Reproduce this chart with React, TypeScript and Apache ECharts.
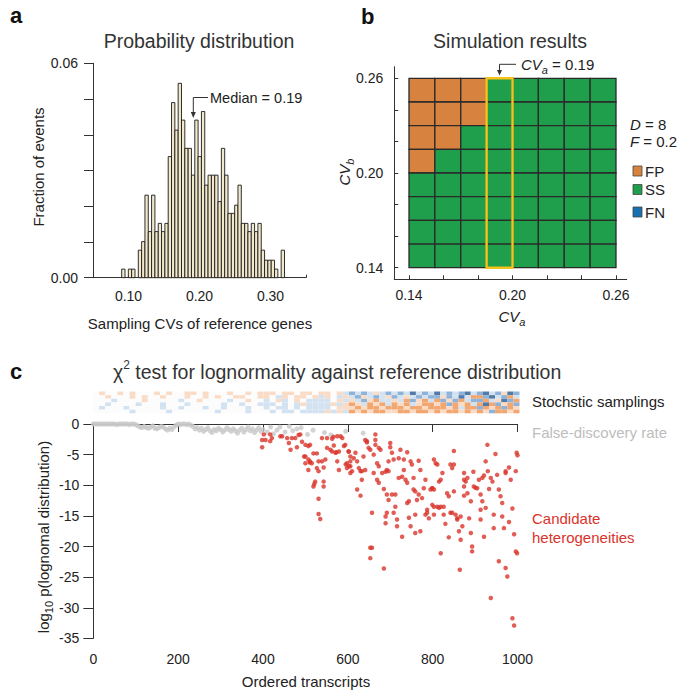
import React, { useEffect, useRef } from "react";
import * as echarts from "echarts";

const FF = "'Liberation Sans', Arial, Helvetica, sans-serif";

// ---------- Panel a: histogram ----------
const histBinStart = 0.0904;
const histBinWidth = 0.00468;
const histFractions = [
  0.0024, 0, 0.0024, 0.0024, 0, 0.0077, 0.0101, 0.0231, 0.0129, 0.0231,
  0.0129, 0.0152, 0.0129, 0.0152, 0.0339, 0.049, 0.0413, 0.0544, 0.0441, 0.0362,
  0.0362, 0.0287, 0.0441, 0.0339, 0.0465, 0.0259, 0.0287, 0.0287, 0.0287, 0.0213,
  0.0362, 0.0287, 0.018, 0.018, 0.0203, 0.0259, 0.0152, 0.0152, 0.0129, 0.0152,
  0.0129, 0.0152, 0.0077, 0.0049, 0.0049, 0.0049, 0.0024, 0, 0.0077,
];

// ---------- Panel b: simulation grid ----------
const simCvStart = 0.14;
const simCvStep = 0.015;
// rows from top (CVb high) to bottom, columns CVa low -> high; F = FP, S = SS, N = FN
const simStates = [
  "FFFSSSSS",
  "FFFSSSSS",
  "FFSSSSSS",
  "FSSSSSSS",
  "SSSSSSSS",
  "SSSSSSSS",
  "SSSSSSSS",
  "SSSSSSSS",
];
const simHighlightCol = 3;
const stateColors: Record<string, string> = { F: "#D8823F", S: "#1F9E4B", N: "#1A6FAF" };

// ---------- Panel c: stochastic samplings strip ----------
// . = 0, o/O = light/strong orange, b/B/D = light/medium/dark blue
const stripRows = [
  ".o..o.o...o.o..oo.o...o..o.o" + "oo.oo.o" + "o.oo.ob" + "BbBbobB" + "bBbDbBb" + "DbBbBDb" + "BDbBoDB",
  "..o...o.o..o...o..o.o..oo..o" + "o.bo.oo" + ".obo.bo" + "bBobBbo" + "BbobBbB" + "BoBbDbO" + "OBDbBOb",
  "...b....o.....b..o....b..o.." + "b.ob.o." + "bbbb.ob" + "obBoObb" + "obOBoOb" + "OBoBObB" + "BOboDBO",
  "..b....b...b...b.....b..b..b" + "bb.b.bo" + "bbbbobo" + "OobOoOb" + "OoOboOO" + "oOBOoOb" + "ODOBoOB",
  ".b...b.....b..b...b..b...b.." + "b.bb.b." + "bbbb.oo" + "oOoOOoO" + "OOoOOoO" + "OOoObOO" + "BOoOBOo",
  "......b.....b.......b....b.." + ".b.bb.b" + "bbbobob" + "OoOoOOo" + "oOOoOOo" + "OoOOoOo" + "OoBOOoO",
];
const stripColors: Record<string, string> = {
  ".": "#fcfcfc",
  o: "#fadcc6",
  O: "#f2a670",
  b: "#d3e2f1",
  B: "#8fb2d9",
  D: "#527ba8",
};

// ---------- Panel c: chi-square scatter ----------
const fdrPoints: [number, number][] = [
  [0, 0], [5, 0], [10, 0], [15, 0], [20, 0], [25, 0], [30, 0], [35, 0], [40, 0], [45, 0],
  [50, 0], [55, -0.1], [60, 0], [65, 0], [70, 0], [75, 0], [80, 0], [85, -0.1], [90, 0], [95, 0],
  [100, -0.1], [105, -0.3], [110, -0.5], [115, -0.6], [120, -0.4], [125, -0.6], [130, -0.7],
  [135, -0.5], [140, -0.3], [145, -0.7], [150, -0.8], [155, -0.6], [160, -0.4], [165, -0.5],
  [170, -0.8], [175, -1.0], [180, -0.7], [185, -0.9], [190, -0.5], [195, -0.2], [200, 0],
  [205, -0.1], [210, 0], [215, 0], [220, -0.1], [225, 0], [230, -0.2], [235, -0.4], [240, -0.8],
  [245, -0.6], [250, -1.0], [255, -0.7], [260, -1.2], [265, -0.9], [270, -0.6], [275, -1.1],
  [280, -1.4], [285, -0.9], [290, -1.1], [295, -0.7], [300, -0.9], [305, -1.3], [310, -1.0],
  [315, -0.6], [320, -0.9], [325, -1.2], [330, -0.8], [335, -1.1], [340, -1.5], [345, -1.0],
  [350, -0.7], [355, -1.3], [360, -0.9], [365, -0.5], [370, -1.1], [375, -0.8], [380, -1.4],
  [385, -1.0], [390, -0.6], [395, -1.2], [400, -0.9], [410, -1.3], [418, -0.5], [425, -1.6],
  [433, -1.0], [440, -0.5], [452, -1.3], [462, -0.4], [470, -1.1], [480, -0.8], [490, -0.6],
  [505, -1.7], [518, -1.0], [545, -1.4], [560, -1.8], [595, -1.2], [636, -1.5],
];
const candidatePoints: [number, number][] = [
  [398, -2.6], [402, -1.7], [406, -2.6], [417, -1.7], [417, -2.8], [421, -2.3], [398, -3.8],
  [445, -2.0], [457, -2.3], [461, -3.1], [465, -4.2], [468, -2.3], [476, -2.3], [480, -3.8],
  [488, -1.7], [492, -2.9], [500, -3.4], [507, -3.6], [511, -3.4], [500, -5.3], [507, -5.8],
  [500, -6.4], [511, -6.1], [515, -6.4], [507, -7.5], [527, -4.8], [531, -6.1], [539, -6.1],
  [547, -5.8], [527, -7.2], [531, -7.7], [543, -7.1], [523, -9.4], [519, -10.2], [543, -9.4],
  [543, -10.2], [531, -12.2], [531, -14.7], [535, -15.5], [539, -2.3], [551, -2.3], [563, -2.4],
  [575, -2.0], [583, -2.0], [587, -2.3], [551, -3.9], [559, -4.2], [567, -3.5], [571, -4.7],
  [579, -4.5], [591, -3.6], [563, -4.5], [575, -6.1], [579, -7.5], [595, -6.6], [598, -7.2],
  [602, -4.5], [606, -8.0], [606, -6.1], [441, -2.0], [484, -1.8], [497, -5.3], [510, -6.3],
  [521, -9.8], [519, -4.8], [566, -2.1], [573, -4.6], [603, -6.9], [641, -7.5], [645, -3.0],
  [594, -3.4], [602, -4.5], [606, -5.3], [598, -6.4], [606, -6.9], [614, -5.6], [618, -4.7],
  [622, -6.1], [610, -7.7], [626, -7.2], [630, -7.7], [633, -9.1], [637, -5.3], [633, -7.7],
  [622, -10.7], [630, -11.7], [641, -2.6], [645, -2.8], [649, -3.9], [653, -4.2], [665, -1.7],
  [665, -2.6], [665, -3.4], [673, -3.9], [677, -4.2], [661, -5.0], [669, -6.4], [673, -6.9],
  [661, -8.0], [669, -9.1], [673, -9.6], [657, -14.5], [653, -20.2], [657, -20.2], [653, -21.9],
  [685, -23.6], [681, -8.0], [685, -10.6], [689, -7.8], [692, -7.5], [696, -7.7], [700, -3.1],
  [700, -3.8], [704, -4.7], [696, -6.1], [708, -5.8], [720, -5.6], [724, -4.2], [740, -4.6],
  [732, -5.8], [732, -7.5], [720, -8.8], [728, -8.6], [736, -9.1], [740, -9.6], [755, -8.8],
  [748, -6.1], [751, -6.6], [767, -6.0], [771, -7.5], [783, -9.1], [755, -10.7], [759, -11.0],
  [767, -11.5], [775, -12.1], [779, -10.5], [795, -10.7], [799, -10.5], [803, -5.8], [803, -13.5],
  [787, -14.0], [763, -12.4], [744, -12.6], [740, -12.9], [712, -11.5], [692, -11.5], [704, -11.5],
  [696, -12.4], [712, -13.5], [708, -14.5], [692, -14.5], [689, -15.1], [689, -16.2], [716, -15.6],
  [716, -16.7], [728, -18.4], [744, -15.3], [748, -16.7], [759, -14.8], [771, -17.5], [759, -17.8],
  [783, -14.8], [787, -14.5], [791, -15.4], [807, -6.4], [811, -6.6], [799, -10.5], [803, -10.7],
  [815, -9.4], [823, -8.0], [819, -9.1], [811, -13.5], [815, -13.7], [819, -13.5], [826, -13.5],
  [799, -13.2], [803, -14.8], [826, -14.8], [834, -11.3], [838, -11.8], [842, -6.6], [846, -7.2],
  [850, -6.6], [850, -4.4], [850, -11.0], [842, -14.5], [846, -14.5], [854, -14.8], [858, -15.4],
  [858, -15.6], [866, -15.1], [870, -16.7], [862, -17.5], [866, -18.9], [838, -18.5], [830, -16.3],
  [819, -21.1], [874, -8.0], [874, -9.1], [878, -9.4], [882, -8.8], [874, -10.2], [874, -11.7],
  [882, -11.3], [890, -12.6], [886, -15.4], [890, -17.8], [893, -20.0], [893, -20.8], [864, -23.8],
  [896, -7.8], [897, -10.2], [905, -10.5], [901, -10.4], [909, -9.1], [917, -8.8], [921, -8.4],
  [925, -6.1], [929, -3.4], [930, -7.7], [933, -10.6], [937, -8.8], [941, -9.4], [913, -11.5],
  [917, -12.6], [925, -13.7], [913, -14.0], [913, -15.6], [921, -18.4], [944, -14.8], [948, -4.9],
  [952, -8.3], [956, -10.7], [960, -11.8], [964, -12.9], [964, -15.1], [956, -22.4], [944, -17.0],
  [937, -28.4], [972, -8.0], [972, -7.7], [980, -7.1], [984, -9.1], [988, -13.8], [980, -16.0],
  [968, -17.0], [972, -23.5], [976, -24.9], [996, -7.7], [996, -20.8], [999, -21.1], [992, -18.0],
  [998, -4.7], [1000, -5.1], [988, -31.7], [992, -32.9],
];

const axisLineStyle = { color: "#333", width: 1 };
const tickLabel = { fontSize: 14, color: "#222", fontFamily: FF };

function pick(list: number[]) {
  return (v: number) => (list.indexOf(Math.round(v * 100)) >= 0 ? v.toFixed(2) : "");
}

export default function App() {
  const ref = useRef<HTMLDivElement>(null);
  useEffect(() => {
    document.body.style.margin = "0";
    if (!ref.current) return;
    const chart = echarts.init(ref.current, null, { renderer: "svg" });

    const histData = histFractions
      .map((h, i) => [histBinStart + i * histBinWidth, h, histBinStart + (i + 1) * histBinWidth])
      .filter((d) => d[1] > 0);

    const cellData: number[][] = [];
    const cellColors: string[] = [];
    simStates.forEach((row, r) => {
      row.split("").forEach((s, c) => {
        const x0 = simCvStart + c * simCvStep;
        const y1 = simCvStart + (simStates.length - r) * simCvStep;
        cellData.push([x0, y1 - simCvStep, x0 + simCvStep, y1, cellColors.length]);
        cellColors.push(stateColors[s]);
      });
    });
    const hx0 = simCvStart + simHighlightCol * simCvStep;
    const highlight = [[hx0, simCvStart, hx0 + simCvStep, simCvStart + simStates.length * simCvStep]];

    const stripCols = Math.max(...stripRows.map((r) => r.length));
    const stripData: number[][] = [];
    const stripFill: string[] = [];
    stripRows.forEach((row, r) => {
      for (let c = 0; c < stripCols; c++) {
        const ch = row[c] || ".";
        stripData.push([c, r, c + 1, r + 1, stripFill.length]);
        stripFill.push(stripColors[ch] || stripColors["."]);
      }
    });

    const rectItem = (fill: (i: number) => string, stroke: string | null, lw: number) =>
      (params: any, api: any) => {
        const a = api.coord([api.value(0), api.value(1)]);
        const b = api.coord([api.value(2), api.value(3)]);
        return {
          type: "rect",
          shape: {
            x: Math.min(a[0], b[0]),
            y: Math.min(a[1], b[1]),
            width: Math.abs(b[0] - a[0]),
            height: Math.abs(b[1] - a[1]),
          },
          style: { fill: fill(api.value(4)), stroke: stroke || undefined, lineWidth: lw },
        };
      };

    const txt = (text: string, x: number, y: number, extra: any = {}, el: any = {}) => ({
      type: "text",
      x,
      y,
      ...el,
      style: {
        text,
        fontFamily: FF,
        fontSize: 15,
        fill: "#222",
        textAlign: "left",
        align: "left",
        textVerticalAlign: "middle",
        verticalAlign: "middle",
        ...extra,
      },
    });
    const center = { textAlign: "center", align: "center" };
    const subRich = (fs: number) => ({
      n: { fontSize: fs, fontFamily: FF, fill: "#222", lineHeight: fs + 7 },
      i: { fontSize: fs, fontFamily: FF, fill: "#222", fontStyle: "italic", lineHeight: fs + 7 },
      s: { fontSize: fs - 4, fontFamily: FF, fill: "#222", fontStyle: "italic", lineHeight: fs - 4, verticalAlign: "bottom" },
      s2: { fontSize: fs - 4, fontFamily: FF, fill: "#222", lineHeight: fs - 4, verticalAlign: "bottom" },
      sup: { fontSize: fs - 6, fontFamily: FF, fill: "#222", lineHeight: fs - 6, verticalAlign: "top" },
    });

    const option: any = {
      animation: false,
      textStyle: { fontFamily: FF },
      grid: [
        { left: 93, top: 63.3, width: 213, height: 214.4 },
        { left: 409, top: 78.3, width: 207, height: 189.4 },
        { left: 394.3, top: 66.7, width: 232.4, height: 212.6 },
        { left: 93, top: 391.5, width: 426.5, height: 21.8 },
        { left: 93.3, top: 424, width: 424.2, height: 214.4 },
      ],
      xAxis: [
        {
          gridIndex: 0, type: "value", min: 0.05, max: 0.35, interval: 0.05, offset: 2,
          axisLine: { lineStyle: axisLineStyle },
          axisTick: { inside: true, length: 3, lineStyle: axisLineStyle },
          axisLabel: { ...tickLabel, margin: 9, formatter: pick([10, 20, 30]) },
          splitLine: { show: false },
        },
        {
          gridIndex: 1, type: "value", min: 0.14, max: 0.26, interval: 0.02, offset: 11.6,
          axisLine: { show: false },
          axisTick: { show: true, inside: true, length: 4, lineStyle: axisLineStyle },
          axisLabel: { ...tickLabel, margin: 9, formatter: pick([14, 20, 26]) },
          splitLine: { show: false },
        },
        {
          gridIndex: 2, type: "value", min: 0, max: 1,
          axisLine: { lineStyle: axisLineStyle }, axisTick: { show: false },
          axisLabel: { show: false }, splitLine: { show: false },
        },
        { gridIndex: 3, type: "value", min: 0, max: stripCols, show: false },
        {
          gridIndex: 4, type: "value", min: 0, max: 1000, interval: 200, offset: 1.6,
          axisLine: { lineStyle: axisLineStyle },
          axisTick: { length: 8, lineStyle: axisLineStyle },
          axisLabel: { ...tickLabel, margin: 12, formatter: (v: number) => String(v) },
          splitLine: { show: false },
        },
      ],
      yAxis: [
        {
          gridIndex: 0, type: "value", min: 0, max: 0.06, interval: 0.01,
          axisLine: { show: true, lineStyle: axisLineStyle },
          axisTick: { show: true, length: 9, lineStyle: axisLineStyle },
          axisLabel: { ...tickLabel, margin: 15, formatter: pick([0, 6]) },
          splitLine: { show: false },
        },
        {
          gridIndex: 1, type: "value", min: 0.14, max: 0.26, interval: 0.02, offset: 14.7,
          axisLine: { show: false },
          axisTick: { show: true, inside: true, length: 4, lineStyle: axisLineStyle },
          axisLabel: { ...tickLabel, margin: 11, formatter: pick([14, 20, 26]) },
          splitLine: { show: false },
        },
        {
          gridIndex: 2, type: "value", min: 0, max: 1,
          axisLine: { show: true, lineStyle: axisLineStyle }, axisTick: { show: false },
          axisLabel: { show: false }, splitLine: { show: false },
        },
        { gridIndex: 3, type: "value", min: 0, max: stripRows.length, inverse: true, show: false },
        {
          gridIndex: 4, type: "value", min: -35, max: 0, interval: 5,
          axisLine: { show: true, lineStyle: axisLineStyle },
          axisTick: { show: true, length: 10, lineStyle: axisLineStyle },
          axisLabel: { ...tickLabel, margin: 14 },
          splitLine: { show: false },
        },
      ],
      series: [
        {
          type: "custom", xAxisIndex: 0, yAxisIndex: 0, data: histData,
          encode: { x: [0, 2], y: 1 },
          renderItem: (params: any, api: any) => {
            const a = api.coord([api.value(0), 0]);
            const b = api.coord([api.value(2), api.value(1)]);
            return {
              type: "rect",
              shape: { x: a[0], y: b[1], width: b[0] - a[0], height: a[1] - b[1] },
              style: { fill: "#F2E8CB", stroke: "#1a1a1a", lineWidth: 0.9 },
            };
          },
          silent: true,
        },
        {
          type: "custom", xAxisIndex: 1, yAxisIndex: 1, data: cellData,
          encode: { x: [0, 2], y: [1, 3] },
          renderItem: rectItem((i) => cellColors[i], "#2a2a2a", 1.3),
          silent: true,
        },
        {
          type: "custom", xAxisIndex: 1, yAxisIndex: 1, data: highlight, z: 5,
          encode: { x: [0, 2], y: [1, 3] },
          renderItem: (params: any, api: any) => {
            const a = api.coord([api.value(0), api.value(1)]);
            const b = api.coord([api.value(2), api.value(3)]);
            return {
              type: "rect",
              shape: { x: a[0], y: b[1], width: b[0] - a[0], height: a[1] - b[1] },
              style: { fill: "none", stroke: "#F6C21B", lineWidth: 2.4 },
            };
          },
          silent: true,
        },
        {
          type: "custom", xAxisIndex: 3, yAxisIndex: 3, data: stripData,
          encode: { x: [0, 2], y: [1, 3] },
          renderItem: rectItem((i) => stripFill[i], null, 0),
          silent: true,
        },
        {
          type: "scatter", xAxisIndex: 4, yAxisIndex: 4, data: fdrPoints,
          symbolSize: 5, itemStyle: { color: "#C8C8C8" }, silent: true,
        },
        {
          type: "scatter", xAxisIndex: 4, yAxisIndex: 4, data: candidatePoints,
          symbolSize: 4.5, itemStyle: { color: "#D9342B" }, silent: true,
        },
      ],
      graphic: [
        // panel a
        txt("a", 10, 15, { fontSize: 22, fontWeight: "bold", fill: "#111" }),
        txt("Probability distribution", 199, 41, { fontSize: 19.5, fill: "#333", ...center }),
        txt("Median = 0.19", 210, 98, { fontSize: 14.5 }),
        { type: "polyline", shape: { points: [[208, 97.5], [193.3, 97.5], [193.3, 113]] }, style: { stroke: "#333", lineWidth: 1, fill: "none" } },
        { type: "polygon", shape: { points: [[190.8, 112], [195.8, 112], [193.3, 118]] }, style: { fill: "#333" } },
        txt("Fraction of events", 38, 167, { ...center }, { rotation: Math.PI / 2 }),
        txt("Sampling CVs of reference genes", 200, 323, { ...center }),
        // panel b
        txt("b", 361, 16, { fontSize: 22, fontWeight: "bold", fill: "#111" }),
        txt("Simulation results", 510, 41, { fontSize: 19.5, fill: "#333", ...center }),
        txt("{i|CV}{s|a}{n| = 0.19}", 521, 64, { rich: subRich(15) }),
        { type: "polyline", shape: { points: [[516, 64.3], [499.5, 64.3], [499.5, 71]] }, style: { stroke: "#333", lineWidth: 1, fill: "none" } },
        { type: "polygon", shape: { points: [[497, 70], [502, 70], [499.5, 75.5]] }, style: { fill: "#333" } },
        txt("{i|CV}{s|b}", 344, 172, { rich: subRich(15), ...center }, { rotation: Math.PI / 2 }),
        txt("{i|CV}{s|a}", 512, 316, { rich: subRich(15), ...center }),
        txt("{i|D}{n| = 8}", 630, 124, { rich: subRich(15) }),
        txt("{i|F}{n| = 0.2}", 630, 141, { rich: subRich(15) }),
        { type: "rect", shape: { x: 633, y: 166, width: 9, height: 10 }, style: { fill: stateColors.F, stroke: "#444", lineWidth: 0.8 } },
        { type: "rect", shape: { x: 633, y: 184.5, width: 9, height: 10 }, style: { fill: stateColors.S, stroke: "#444", lineWidth: 0.8 } },
        { type: "rect", shape: { x: 633, y: 207, width: 9, height: 10 }, style: { fill: stateColors.N, stroke: "#444", lineWidth: 0.8 } },
        txt("FP", 645, 171),
        txt("SS", 645, 189.5),
        txt("FN", 645, 212),
        // panel c
        txt("c", 10, 371, { fontSize: 22, fontWeight: "bold", fill: "#111" }),
        txt("{n|\u03c7}{sup|2}{n| test for lognormality against reference distribution}", 113, 372, {
          rich: {
            n: { fontSize: 19.5, fontFamily: FF, fill: "#333", lineHeight: 26 },
            sup: { fontSize: 12, fontFamily: FF, fill: "#333", lineHeight: 12, verticalAlign: "top" },
          },
        }),
        txt("Stochstic samplings", 532, 401),
        txt("False-discovery rate", 532, 432, { fill: "#BDBDBD" }),
        txt("Candidate", 532, 518, { fill: "#D9342B" }),
        txt("heterogeneities", 532, 537, { fill: "#D9342B" }),
        txt("{n|log}{s2|10}{n| p(lognomal distribution)}", 43, 537, { rich: subRich(15), ...center }, { rotation: Math.PI / 2 }),
        txt("Ordered transcripts", 306, 681, { ...center }),
      ],
    };
    chart.setOption(option);
    return () => chart.dispose();
  }, []);
  return <div ref={ref} style={{ width: 678, height: 692 }} />;
}
